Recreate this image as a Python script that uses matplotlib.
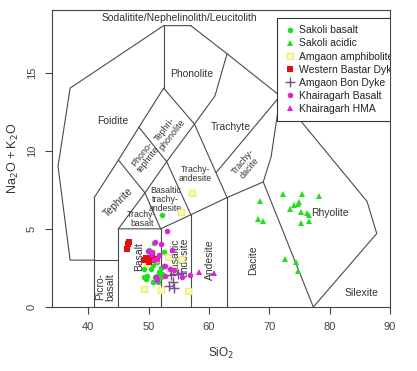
import numpy as np
import matplotlib
matplotlib.use("Agg")
import matplotlib.pyplot as plt
from matplotlib.lines import Line2D

plt.rcParams['font.family'] = ['Liberation Sans', 'DejaVu Sans']

# --- sample data (SiO2, Na2O+K2O) ---
sakoli_basalt_x = [50.9, 52.5, 52.2, 49.3, 50.7, 51.4, 51.7, 51.9, 52.2, 49.6, 50.8,
                   49.2, 49.8, 51.2, 52.05, 51.0, 50.4, 51.4, 50.1, 51.6, 52.0]
sakoli_basalt_y = [4.1, 3.5, 5.9, 2.4, 2.7, 2.0, 2.26, 2.0, 2.1, 1.8, 1.6,
                   1.95, 2.0, 1.73, 1.95, 1.95, 2.4, 2.9, 3.65, 1.6, 2.5]

sakoli_acidic_x = [68.4, 72.2, 75.4, 78.3, 74.9, 74.7, 74.1, 73.5, 75.2, 76.2, 76.5,
                   76.6, 75.3, 68.1, 69.0, 72.6, 74.4, 74.7]
sakoli_acidic_y = [6.8, 7.2, 7.25, 7.1, 6.7, 6.6, 6.5, 6.3, 6.1, 6.0, 5.9,
                   5.5, 5.4, 5.6, 5.5, 3.1, 2.9, 2.3]

amgaon_amph_x = [57.2, 55.4, 49.3, 52.0, 56.6, 55.4, 53.3, 54.0, 49.8, 50.1, 51.1, 50.6]
amgaon_amph_y = [7.3, 6.05, 1.15, 1.1, 1.05, 3.1, 3.2, 2.45, 2.8, 3.0, 3.1, 3.4]

bastar_x = [46.6, 46.4, 46.7, 49.2, 49.7, 50.2, 50.6, 51.0, 50.1, 49.5]
bastar_y = [4.0, 3.7, 4.15, 3.0, 3.1, 3.0, 3.2, 3.1, 2.85, 3.15]

bon_x = [54.0, 53.4, 54.2, 53.7, 55.3, 54.9]
bon_y = [1.6, 1.35, 1.2, 2.05, 2.2, 2.1]

khair_bas_x = [53.1, 52.0, 50.5, 53.8, 51.4, 52.6, 52.8, 53.6, 51.4, 55.6, 56.9,
               51.1, 51.7, 50.9, 51.2, 49.9, 50.4, 52.7, 54.2]
khair_bas_y = [4.83, 4.0, 3.55, 3.65, 3.1, 2.65, 2.0, 2.4, 1.73, 1.95, 2.05,
               4.15, 3.33, 3.0, 1.95, 3.6, 3.4, 2.6, 2.37]

khair_hma_x = [58.4, 60.9]
khair_hma_y = [2.26, 2.16]

# --- TAS field boundaries ---
tas_lines = [
    [(41, 0), (41, 7)],
    [(41, 3), (37, 3), (35, 9), (37, 14), (52.5, 18), (57, 18)],
    [(41, 3), (45, 3)],
    [(45, 0), (45, 5)],
    [(52, 0), (52, 5)],
    [(57, 0), (57, 5.9)],
    [(63, 0), (63, 7)],
    [(45, 5), (52, 5), (57, 5.9), (63, 7), (69, 8), (77.3, 0)],
    [(45, 5), (49.4, 7.3), (52, 5)],
    [(41, 7), (45, 9.4), (48.4, 11.5), (52.5, 14), (57.6, 11.7), (63, 7)],
    [(45, 9.4), (49.4, 7.3), (53, 9.3), (57, 5.9)],
    [(48.4, 11.5), (53, 9.3), (57.6, 11.7)],
    [(52.5, 14), (52.5, 18)],
    [(57.6, 11.7), (61, 13.5), (63, 16.2)],
    [(57, 18), (63, 16.2), (71.8, 13.5), (86.2, 6.75), (87.8, 4.7), (77.3, 0)],
    [(69, 8), (70.3, 9.6), (71.8, 13.5)],
    [(61.2, 8.6), (71.8, 13.5)],
]

# label, x, y, rotation, size
tas_labels = [
    ("Sodalitite/Nephelinolith/Leucitolith", 55.1, 18.5, 0, 7.5),
    ("Foidite", 44.0, 11.9, 0, 7.5),
    ("Phonolite", 57.2, 14.9, 0, 7.5),
    ("Tephri-\nphonolite", 53.3, 11.2, 52, 6.5),
    ("Phono-\ntephrite", 49.5, 9.6, 52, 6.5),
    ("Tephrite", 45.0, 6.7, 45, 7.5),
    ("Trachyte", 63.6, 11.5, 0, 7.5),
    ("Trachy-\ndacite", 66.2, 9.1, 50, 6.5),
    ("Trachy-\nandesite", 57.8, 8.5, 0, 6.3),
    ("Basaltic\ntrachy-\nandesite", 52.8, 6.9, 0, 6.3),
    ("Trachy-\nbasalt", 48.9, 5.6, 0, 6.3),
    ("Picro-\nbasalt", 42.8, 1.3, 90, 7.5),
    ("Basalt", 48.5, 3.2, 90, 7.5),
    ("Basaltic\nandesite", 55.2, 3.2, 90, 7.5),
    ("Andesite", 60.2, 3.0, 90, 7.5),
    ("Dacite", 67.4, 3.0, 90, 7.5),
    ("Rhyolite", 80.1, 6.0, 0, 7.5),
    ("Silexite", 85.2, 0.92, 0, 7.5),
]

fig = plt.figure(figsize=(4.17, 3.71), dpi=100)
ax = fig.add_axes([52/417, 1 - 307/371, 338/417, 297/371])

line_col = '#4a4a4a'
for seg in tas_lines:
    xs, ys = zip(*seg)
    ax.plot(xs, ys, color=line_col, lw=0.8, zorder=1)

for txt, x, y, rot, fs in tas_labels:
    ax.text(x, y, txt, rotation=rot, fontsize=fs, ha='center', va='center',
            color='#333333', linespacing=1.0, zorder=2)

green = '#22dd22'
magenta = '#dd22dd'
ax.plot(sakoli_basalt_x, sakoli_basalt_y, 'o', color=green, ms=4, mew=0, zorder=3)
ax.plot(sakoli_acidic_x, sakoli_acidic_y, '^', color=green, ms=5, mew=0, zorder=3)
ax.plot(amgaon_amph_x, amgaon_amph_y, 's', mfc='#fbfbc8', mec='#eeee70', ms=5, mew=1.0, zorder=3)
ax.plot(bastar_x, bastar_y, 's', color='#e01010', ms=4.5, mew=0, zorder=4)
ax.plot(bon_x, bon_y, '+', color='#7a4a8a', ms=7, mew=1.0, zorder=4)
ax.plot(khair_bas_x, khair_bas_y, 'o', color=magenta, ms=4, mew=0, zorder=5)
ax.plot(khair_hma_x, khair_hma_y, '^', color=magenta, ms=5, mew=0, zorder=5)

handles = [
    Line2D([], [], ls='none', marker='o', color=green, ms=4, mew=0),
    Line2D([], [], ls='none', marker='^', color=green, ms=5, mew=0),
    Line2D([], [], ls='none', marker='s', mfc='#fbfbc8', mec='#eeee70', ms=5, mew=1.0),
    Line2D([], [], ls='none', marker='s', color='#e01010', ms=4.5, mew=0),
    Line2D([], [], ls='none', marker='+', color='#7a4a8a', ms=7, mew=1.0),
    Line2D([], [], ls='none', marker='o', color=magenta, ms=4, mew=0),
    Line2D([], [], ls='none', marker='^', color=magenta, ms=5, mew=0),
]
names = ["Sakoli basalt", "Sakoli acidic", "Amgaon amphibolite", "Western Bastar Dyke",
         "Amgaon Bon Dyke", "Khairagarh Basalt", "Khairagarh HMA"]
leg = ax.legend(handles, names, loc='upper left',
                bbox_to_anchor=((277 - 52)/338, 1 - 8/297), borderaxespad=0,
                fontsize=7.5, frameon=True, fancybox=False, framealpha=1,
                edgecolor='#333333', borderpad=0.7, labelspacing=0.3,
                handlelength=1.0, handletextpad=0.45)
leg.get_frame().set_linewidth(0.8)
leg.get_frame().set_clip_box(ax.bbox)
for t in leg.get_texts():
    t.set_clip_box(ax.bbox)
    t.set_color('#222222')
leg.set_zorder(10)

ax.set_xlim(34, 90)
ax.set_ylim(0, 19)
ax.set_xticks([40, 50, 60, 70, 80, 90])
ax.set_yticks([0, 5, 10, 15])
ax.tick_params(direction='out', length=5, width=0.8, colors='#444444',
               labelsize=8, pad=6)
for lab in ax.get_yticklabels():
    lab.set_rotation(90)
    lab.set_va('center')
for sp in ax.spines.values():
    sp.set_color('#444444')
    sp.set_linewidth(0.8)

ax.set_xlabel("SiO$_2$", fontsize=8.5, color='#333333', labelpad=10)
ax.set_ylabel("Na$_2$O + K$_2$O", fontsize=9, color='#333333', labelpad=4)

fig.savefig("out.png", dpi=100)
